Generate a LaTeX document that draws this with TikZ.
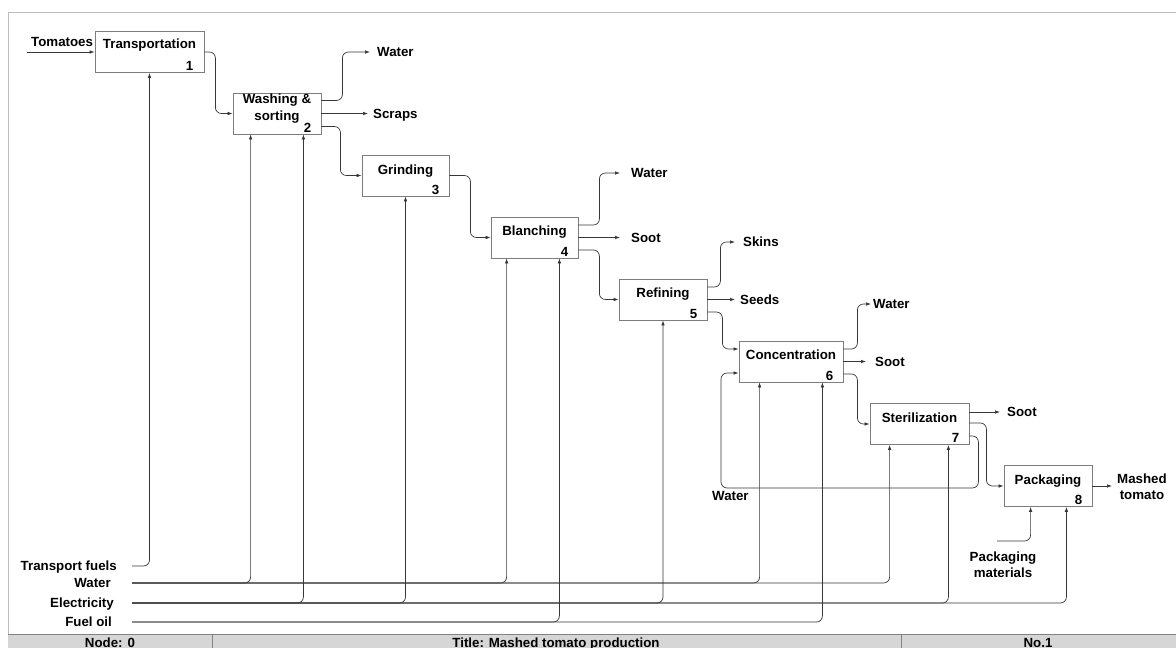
\documentclass[tikz,border=0pt]{standalone}
\usepackage{fontspec}
\setmainfont{Liberation Sans}
\usetikzlibrary{arrows.meta,calc}
\definecolor{boxgray}{RGB}{125,125,125}
\definecolor{linegray}{RGB}{55,55,55}
\definecolor{framegray}{RGB}{190,190,190}
\definecolor{footfill}{RGB}{214,214,214}
\definecolor{footline}{RGB}{130,130,130}
\begin{document}
\begin{tikzpicture}[x=1pt,y=-1pt,
  box/.style={draw=boxgray, line width=0.8pt, minimum height=41pt, inner sep=0pt, fill=white},
  ttl/.style={font=\fontsize{13.3}{17}\selectfont\bfseries, inner sep=0pt, align=center},
  num/.style={font=\fontsize{13.3}{16}\selectfont\bfseries, inner sep=0pt, anchor=south east},
  lab/.style={font=\fontsize{13.3}{16}\selectfont\bfseries, inner sep=0pt},
  flow/.style={draw=linegray, line width=0.7pt, rounded corners=6pt, -{Latex[length=5pt,width=3.6pt]}},
]
\useasboundingbox (0,0) rectangle (1176,648);
% frame and footer
\draw[framegray, line width=0.9pt] (1180,12) -- (8,12) -- (8,650);
\fill[footfill] (8,634) rectangle (1180,650);
\draw[footline, line width=0.8pt] (8,634) -- (1180,634);
\draw[footline, line width=0.8pt] (212,634) -- (212,650) (901,634) -- (901,650);
\node[lab, anchor=base] (fnode) at (110,647.3) {Node: 0};
\node[lab, anchor=base] (ftitle) at (556,647.3) {Title: Mashed tomato production};
\node[lab, anchor=base] (fno) at (1038,647.3) {No.1};

% boxes
\node[box, minimum width=109pt] (b1) at (149.5,52) {};
\node[box, minimum width=88pt] (b2) at (277,113.5) {};
\node[box, minimum width=87pt] (b3) at (405.5,175.5) {};
\node[box, minimum width=87pt] (b4) at (534.5,237.5) {};
\node[box, minimum width=88pt] (b5) at (663,299.5) {};
\node[box, minimum width=104pt] (b6) at (791,361.5) {};
\node[box, minimum width=99pt] (b7) at (919.5,424) {};
\node[box, minimum width=88pt] (b8) at (1048,486) {};

% titles
\node[ttl, anchor=base] (t1) at ($(b1.north)+(0,17)$) {Transportation};
\node[ttl] (t2) at ($(b2.north)+(0,16)$) {Washing \&\\sorting};
\node[ttl, anchor=base] (t3) at ($(b3.north)+(0,20)$) {Grinding};
\node[ttl, anchor=base] (t4) at ($(b4.north)+(0,19)$) {Blanching};
\node[ttl, anchor=base] (t5) at ($(b5.north)+(0,19)$) {Refining};
\node[ttl, anchor=base] (t6) at ($(b6.north)+(0,19)$) {Concentration};
\node[ttl, anchor=base] (t7) at ($(b7.north)+(0,19)$) {Sterilization};
\node[ttl, anchor=base] (t8) at ($(b8.north)+(0,19)$) {Packaging};

% numbers
\node[num] (n1) at ($(b1.south east)+(-11,-2)$) {1};
\node[num] (n2) at ($(b2.south east)+(-10,-2)$) {2};
\node[num] (n3) at ($(b3.south east)+(-10,-2)$) {3};
\node[num] (n4) at ($(b4.south east)+(-10,-2)$) {4};
\node[num] (n5) at ($(b5.south east)+(-10,-2)$) {5};
\node[num] (n6) at ($(b6.south east)+(-10,-2)$) {6};
\node[num] (n7) at ($(b7.south east)+(-10,-2)$) {7};
\node[num] (n8) at ($(b8.south east)+(-10,-2)$) {8};

% free ends
\coordinate (tomS) at (27,52);
\coordinate (wwE) at (370,52);
\coordinate (wsE) at (368,113.5);
\coordinate (bwE) at (620,173);
\coordinate (bsE) at (620,237.5);
\coordinate (rkE) at (735,242);
\coordinate (rsE) at (735,299.5);
\coordinate (cwE) at (871,304);
\coordinate (csE) at (866,361.5);
\coordinate (ssE) at (1000,412);
\coordinate (mtE) at (1112,486);
\coordinate (loopC) at (721,488);
\coordinate (pmS) at (997,541);
\coordinate (tfS) at (132,566);
\coordinate (wS) at (132,583);
\coordinate (eS) at (132,603);
\coordinate (fS) at (132,622);

% labels
\node[lab, anchor=base west] (tomL) at (31,46) {Tomatoes};
\node[lab, anchor=base west] (wwL) at ($(wwE)+(7,4.8)$) {Water};
\node[lab, anchor=base west] (wsL) at ($(wsE)+(5,4.8)$) {Scraps};
\node[lab, anchor=base west] (bwL) at ($(bwE)+(11,4.8)$) {Water};
\node[lab, anchor=base west] (bsL) at ($(bsE)+(11,4.8)$) {Soot};
\node[lab, anchor=base west] (rkL) at ($(rkE)+(8,4.8)$) {Skins};
\node[lab, anchor=base west] (rsL) at ($(rsE)+(5,4.8)$) {Seeds};
\node[lab, anchor=base west] (cwL) at ($(cwE)+(2,4.8)$) {Water};
\node[lab, anchor=base west] (csL) at ($(csE)+(9,4.8)$) {Soot};
\node[lab, anchor=base west] (ssL) at ($(ssE)+(7,4.8)$) {Soot};
\node[lab, anchor=west, align=center] (mtL) at ($(mtE)+(5,1)$) {Mashed\\tomato};
\node[lab, anchor=base west] (lwL) at (712,500) {Water};
\node[lab, align=center] (pmL) at (1003,565) {Packaging\\materials};
\node[lab, anchor=base east] (tfL) at (117,570.8) {Transport fuels};
\node[lab, anchor=base east] (wL) at (111,587.8) {Water};
\node[lab, anchor=base east] (eL) at (114,607.8) {Electricity};
\node[lab, anchor=base east] (fL) at (112,626.8) {Fuel oil};

% main flow
\draw[flow] (tomS) -- (b1.west);
\draw[flow] (b1.east) -- ++(11,0) |- (b2.west);
\draw[flow] ($(b2.east)+(0,-13)$) -- ++(21,0) |- (wwE);
\draw[flow] (b2.east) -- (wsE);
\draw[flow] ($(b2.east)+(0,13)$) -- ++(19,0) |- (b3.west);
\draw[flow] (b3.east) -- ++(21,0) |- (b4.west);
\draw[flow] ($(b4.east)+(0,-12.5)$) -- ++(21,0) |- (bwE);
\draw[flow] (b4.east) -- (bsE);
\draw[flow] ($(b4.east)+(0,12.5)$) -- ++(21,0) |- (b5.west);
\draw[flow] ($(b5.east)+(0,-12.5)$) -- ++(13,0) |- (rkE);
\draw[flow] (b5.east) -- (rsE);
\draw[flow] ($(b5.east)+(0,12.5)$) -- ++(15,0) |- ($(b6.west)+(0,-12.5)$);
\draw[flow] ($(b6.east)+(0,-12.5)$) -- ++(14,0) |- (cwE);
\draw[flow] (b6.east) -- (csE);
\draw[flow] ($(b6.east)+(0,12.5)$) -- ++(14,0) |- (b7.west);
\draw[flow] ($(b7.east)+(0,-12)$) -- (ssE);
\draw[flow] ($(b7.east)+(0,-1)$) -- ++(17,0) |- (b8.west);
\draw[flow] ($(b7.east)+(0,12)$) -- ++(9,0) |- (loopC) |- ($(b6.west)+(0,11.5)$);
\draw[flow] (b8.east) -- (mtE);
\draw[flow] (pmS) -| ([xshift=27pt]b8.south west);

% resources from below
\draw[flow] (tfS) -| (b1.south);
\draw[flow] (wS) -| ([xshift=18pt]b2.south west);
\draw[flow] (wS) -| ([xshift=16pt]b4.south west);
\draw[flow] (wS) -| ([xshift=21pt]b6.south west);
\draw[flow] (wS) -| ([xshift=20pt]b7.south west);
\draw[flow] (eS) -| ([xshift=-18pt]b2.south east);
\draw[flow] (eS) -| (b3.south);
\draw[flow] (eS) -| (b5.south);
\draw[flow] (eS) -| ([xshift=-21pt]b7.south east);
\draw[flow] (eS) -| ([xshift=-26pt]b8.south east);
\draw[flow] (fS) -| ([xshift=-19pt]b4.south east);
\draw[flow] (fS) -| ([xshift=-21pt]b6.south east);
\end{tikzpicture}
\end{document}
